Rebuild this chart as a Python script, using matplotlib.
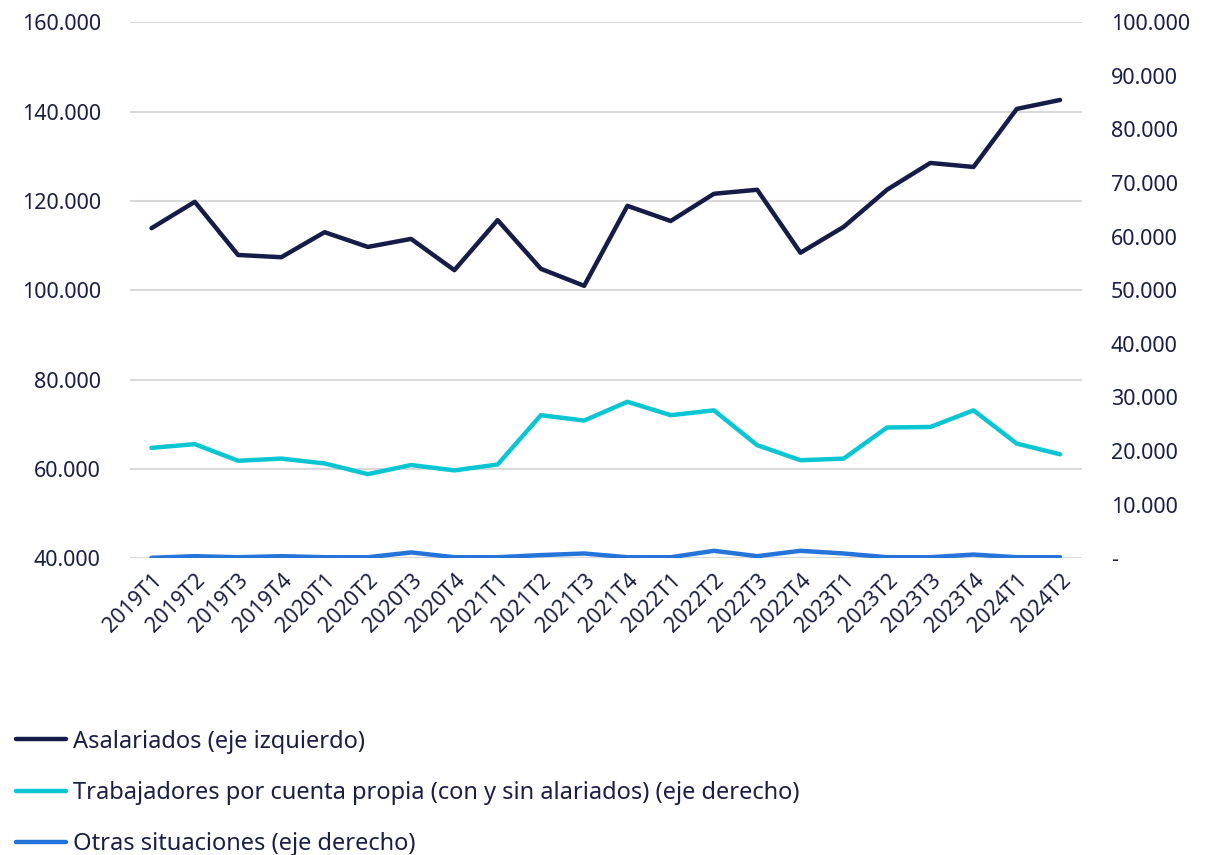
import matplotlib.pyplot as plt
import matplotlib.ticker as mticker

plt.rcParams['font.family'] = ['Noto Sans', 'DejaVu Sans']

periodos = ['2019T1', '2019T2', '2019T3', '2019T4', '2020T1', '2020T2', '2020T3', '2020T4',
            '2021T1', '2021T2', '2021T3', '2021T4', '2022T1', '2022T2', '2022T3', '2022T4',
            '2023T1', '2023T2', '2023T3', '2023T4', '2024T1', '2024T2']

# eje izquierdo
asalariados = [113900, 119800, 107900, 107400, 113000, 109700, 111500, 104500,
               115700, 104800, 101000, 118900, 115500, 121600, 122500, 108400,
               114200, 122500, 128500, 127600, 140600, 142600]

# eje derecho
cuenta_propia = [20600, 21300, 18200, 18600, 17700, 15700, 17400, 16400,
                 17500, 26700, 25700, 29200, 26700, 27600, 21100, 18300,
                 18600, 24400, 24500, 27600, 21400, 19400]
otras = [100, 400, 200, 400, 200, 200, 1100, 200,
         200, 600, 900, 200, 200, 1400, 400, 1400,
         900, 200, 200, 700, 200, 200]

navy = '#141c47'
cyan = '#0bc6d2'
blue = '#2474da'
txt = '#1a1f45'

fig = plt.figure(figsize=(12.14, 8.55), dpi=100)
ax = fig.add_axes([0.107, 0.347, 0.784, 0.627])
ax2 = ax.twinx()

x = list(range(len(periodos)))
l1, = ax.plot(x, asalariados, color=navy, lw=3.2, solid_capstyle='round')
l2, = ax2.plot(x, cuenta_propia, color=cyan, lw=3.2, solid_capstyle='round')
l3, = ax2.plot(x, otras, color=blue, lw=3.2, solid_capstyle='round')

ax.set_ylim(40000, 160000)
ax.set_yticks(range(40000, 160001, 20000))
ax2.set_ylim(0, 100000)
ax2.set_yticks(range(0, 100001, 10000))
ax.set_xlim(-0.5, len(periodos) - 0.5)

def miles(v, pos):
    if v == 0:
        return '-'
    return '{:,.0f}'.format(v).replace(',', '.')

ax.yaxis.set_major_formatter(mticker.FuncFormatter(miles))
ax2.yaxis.set_major_formatter(mticker.FuncFormatter(miles))

ax.grid(axis='y', color='#d9d9d9', lw=1.5)
ax.set_axisbelow(True)
for a in (ax, ax2):
    for s in a.spines.values():
        s.set_visible(False)
    a.tick_params(length=0, labelsize=15.5, colors=txt)
ax.tick_params(axis='y', pad=21)
ax2.tick_params(axis='y', pad=21)

ax.set_xticks(x)
ax.set_xticklabels(periodos, rotation=45, ha='right', rotation_mode='anchor')
ax.tick_params(axis='x', pad=8)

fig.legend([l1, l2, l3],
           ['Asalariados (eje izquierdo)',
            'Trabajadores por cuenta propia (con y sin alariados) (eje derecho)',
            'Otras situaciones (eje derecho)'],
           loc='upper left', bbox_to_anchor=(-0.004, 0.1715), frameon=False,
           fontsize=17, labelcolor=txt, handlelength=2.1, handletextpad=0.3,
           labelspacing=1.15)

fig.savefig('out.png', dpi=100)
